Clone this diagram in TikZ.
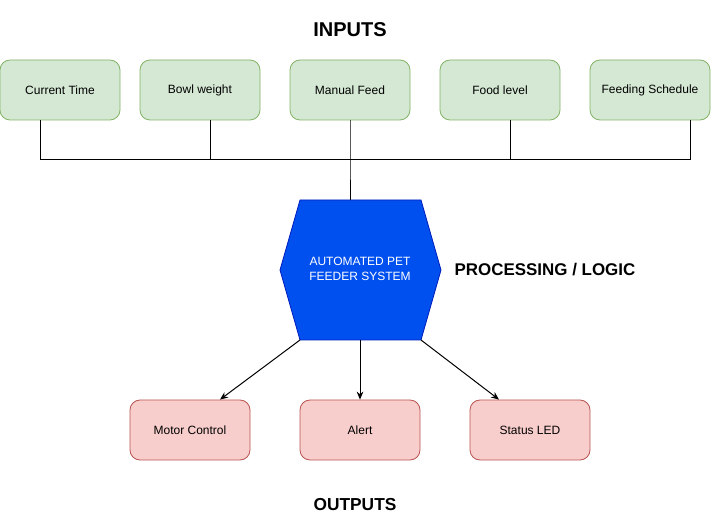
\documentclass[tikz,border=0pt]{standalone}
\usepackage{fontspec}
\setmainfont{Liberation Sans}
\usetikzlibrary{arrows.meta}
\definecolor{ingreen}{HTML}{D5E8D4}
\definecolor{ingreenline}{HTML}{82B366}
\definecolor{outred}{HTML}{F8CECC}
\definecolor{outredline}{HTML}{B85450}
\definecolor{hexblue}{HTML}{0050EF}
\definecolor{hexblueline}{HTML}{001DBC}
\tikzset{
  inbox/.style={draw=ingreenline, fill=ingreen, rounded corners=7.5pt, minimum width=90pt, minimum height=45pt, inner sep=0pt, font=\fontsize{9}{11}\selectfont, line width=0.6pt},
  outbox/.style={draw=outredline, fill=outred, rounded corners=7.5pt, minimum width=90pt, minimum height=45pt, inner sep=0pt, font=\fontsize{9}{11}\selectfont, line width=0.6pt},
  title/.style={font=\bfseries\fontsize{13}{15}\selectfont},
  conn/.style={line width=0.75pt, black},
  arr/.style={line width=0.75pt, black, -{Stealth[length=6pt,width=5pt]}}
}
\begin{document}
\begin{tikzpicture}[x=0.75pt, y=-0.75pt]
\useasboundingbox (0,0) rectangle (711,520);
\node[title, font=\bfseries\fontsize{15}{17}\selectfont] (tin) at (350,30) {INPUTS};
\node[title, font=\bfseries\fontsize{12.7}{15}\selectfont] (tproc) at (545,270) {PROCESSING / LOGIC};
\node[title] (tout) at (355,505) {OUTPUTS};

\node[inbox] (ct) at (60,90) {Current Time};
\node[inbox] (bw) at (200,90) {Bowl weight};
\node[inbox] (mf) at (350,90) {Manual Feed};
\node[inbox] (fl) at (500,90) {Food level};
\node[inbox] (fs) at (650,90) {Feeding Schedule};

\coordinate (bctl) at (40,160);
\coordinate (bbw) at (210,160);
\coordinate (bmid) at (350,160);
\coordinate (bfl) at (510,160);
\coordinate (bfs) at (690,160);

% hexagon
\coordinate (h1) at (300,200);
\coordinate (h2) at (421,200);
\coordinate (h3) at (441,270);
\coordinate (h4) at (421,340);
\coordinate (h5) at (300,340);
\coordinate (h6) at (280,270);
\filldraw[fill=hexblue, draw=hexblueline, line width=0.6pt] (h1) -- (h2) -- (h3) -- (h4) -- (h5) -- (h6) -- cycle;
\node[text=white, align=center, font=\fontsize{9}{11}\selectfont] (core) at (360,269) {AUTOMATED PET\\FEEDER SYSTEM};
\coordinate (htop) at (350,200);
\coordinate (hbot) at (360,340);

\draw[conn] (ct.south -| bctl) -- (bctl) -- (bfs) -- (fs.south -| bfs);
\draw[conn] (bw.south -| bbw) -- (bbw);
\draw[conn] (mf.south) -- (bmid) -- (htop);
\draw[conn] (fl.south -| bfl) -- (bfl);

\node[outbox] (mc) at (190,430) {Motor Control};
\node[outbox] (al) at (360,430) {Alert};
\node[outbox] (sl) at (530,430) {Status LED};

\draw[arr] (h5) -- (mc.north -| 220,0);
\draw[arr] (hbot) -- (al.north);
\draw[arr] (h4) -- (sl.north -| 499,0);
\end{tikzpicture}
\end{document}
